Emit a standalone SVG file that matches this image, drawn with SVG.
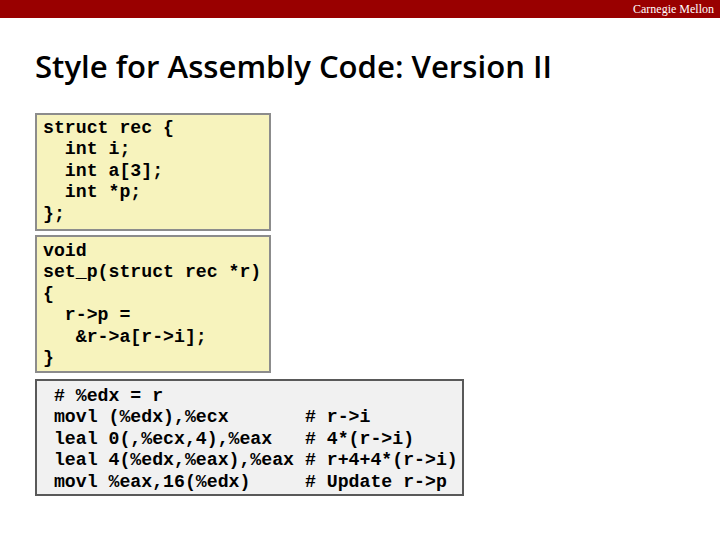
<svg xmlns="http://www.w3.org/2000/svg" width="720" height="540" viewBox="0 0 720 540">
<style>
.code{font-family:"Liberation Mono",monospace;font-weight:bold;font-size:18.2px;fill:#000;white-space:pre}
.yb{fill:#f7f3bd;stroke:#8c8c8c;stroke-width:2}
.gb{fill:#f1f1f1;stroke:#595959;stroke-width:2}
</style>
<rect width="720" height="540" fill="#fff"/>
<rect x="0" y="0" width="720" height="18" fill="#990000"/>
<text x="714" y="13" text-anchor="end" font-family="Liberation Serif,serif" font-size="12" fill="#fff">Carnegie Mellon</text>
<text x="35" y="78" font-family="Open Sans,sans-serif" font-weight="600" font-size="31" textLength="517" lengthAdjust="spacingAndGlyphs" fill="#000">Style for Assembly Code: Version II</text>
<g id="struct">
<rect class="yb" x="36" y="114" width="234" height="116"/>
<text class="code" xml:space="preserve"><tspan x="43" y="133">struct rec {</tspan><tspan x="43" y="154">  int i;</tspan><tspan x="43" y="176">  int a[3];</tspan><tspan x="43" y="197">  int *p;</tspan><tspan x="43" y="219">};</tspan></text>
</g>
<g id="func">
<rect class="yb" x="36" y="236" width="234" height="136"/>
<text class="code" xml:space="preserve"><tspan x="43" y="256">void</tspan><tspan x="43" y="277">set_p(struct rec *r)</tspan><tspan x="43" y="299">{</tspan><tspan x="43" y="320">  r-&gt;p =</tspan><tspan x="43" y="342">   &amp;r-&gt;a[r-&gt;i];</tspan><tspan x="43" y="363">}</tspan></text>
</g>
<g id="asm">
<rect class="gb" x="36" y="380" width="427" height="115"/>
<text class="code" xml:space="preserve"><tspan x="43" y="401"> # %edx = r</tspan><tspan x="43" y="422"> movl (%edx),%ecx       # r-&gt;i</tspan><tspan x="43" y="444"> leal 0(,%ecx,4),%eax   # 4*(r-&gt;i)</tspan><tspan x="43" y="465"> leal 4(%edx,%eax),%eax # r+4+4*(r-&gt;i)</tspan><tspan x="43" y="487"> movl %eax,16(%edx)     # Update r-&gt;p</tspan></text>
</g>
<g id="connectors"/>
</svg>
